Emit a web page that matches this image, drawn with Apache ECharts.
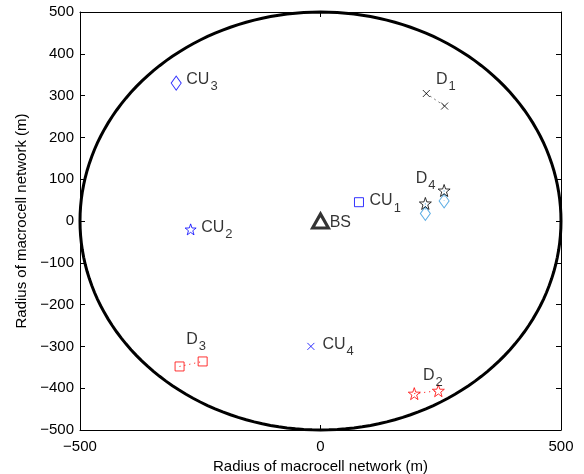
<!DOCTYPE html>
<html>
<head>
<meta charset="utf-8">
<script src="https://cdn.jsdelivr.net/npm/echarts@6/dist/echarts.min.js"></script>
<style>
html,body{margin:0;padding:0;background:#fff;}
#main{width:584px;height:474px;}
</style>
</head>
<body>
<div id="main"></div>
<script>
// cell radius and base station
var cellRadius = 500;
var bsPos = [[0, 0]];

// cellular users
var cu1 = [[80, 45]];
var cu2 = [[-270, -20]];
var cu3 = [[-300, 330]];
var cu4 = [[-20, -300]];

// D2D pairs
var d1Pair = [[220, 305], [258, 275]];
var d2Pair = [[195, -413], [245, -406]];
var d3Pair = [[-293, -348], [-245, -336]];
var d4Tx = [[218, 42], [257, 73]];
var d4Rx = [[218, 18], [257, 48]];

// text notes [x, y, name, subscript]
var notes = [
    [-279, 339, 'CU', '3'],
    [-248, -15, 'CU', '2'],
    [102, 48, 'CU', '1'],
    [4, -295, 'CU', '4'],
    [240, 339, 'D', '1'],
    [198, 102, 'D', '4'],
    [-279, -283, 'D', '3'],
    [213, -370, 'D', '2'],
    [19, -5, 'BS', '']
];

var xTicks = [-500, 0, 500];
var yTicks = [-500, -400, -300, -200, -100, 0, 100, 200, 300, 400, 500];

var starPath = 'path://M0,-10L2.35,-3.24L9.51,-3.09L3.8,1.24L5.88,8.09L0,4L-5.88,8.09L-3.8,1.24L-9.51,-3.09L-2.35,-3.24Z';
var crossPath = 'path://M0,0L10,10M10,0L0,10';
var FONT = '"Liberation Sans", Arial, sans-serif';

function hollow(color, bw){
    return {color: 'rgba(0,0,0,0)', borderColor: color, borderWidth: bw || 1};
}
function minus(v){ return String(v).replace('-', '\u2212'); }

var chart = echarts.init(document.getElementById('main'));

var axisLine = {show: true, onZero: false, lineStyle: {color: '#000', width: 1}};
var tick = {inside: true, length: 5, lineStyle: {color: '#000'}};
var option = {
    animation: false,
    backgroundColor: '#fff',
    grid: {left: 80, right: 23, top: 12, bottom: 44, outerBoundsMode: 'none', containLabel: false},
    xAxis: [{
        type: 'value', min: xTicks[0], max: xTicks[xTicks.length-1], interval: 500,
        axisLine: axisLine, axisTick: tick,
        axisLabel: {color: '#000', fontSize: 15, fontFamily: FONT, margin: 9, formatter: minus},
        splitLine: {show: false},
        name: 'Radius of macrocell network (m)',
        nameLocation: 'middle', nameGap: 27,
        nameTextStyle: {color: '#000', fontSize: 15, fontFamily: FONT}
    }, {
        type: 'value', position: 'top', min: -500, max: 500, interval: 500,
        axisLine: axisLine, axisTick: tick,
        axisLabel: {show: false}, splitLine: {show: false}
    }],
    yAxis: [{
        type: 'value', min: yTicks[0], max: yTicks[yTicks.length-1], interval: 100,
        axisLine: axisLine, axisTick: tick,
        axisLabel: {color: '#000', fontSize: 15, fontFamily: FONT, margin: 6, formatter: minus},
        splitLine: {show: false},
        name: 'Radius of macrocell network (m)',
        nameLocation: 'middle', nameGap: 48,
        nameTextStyle: {color: '#000', fontSize: 15, fontFamily: FONT}
    }, {
        type: 'value', position: 'right', min: -500, max: 500, interval: 100,
        axisLine: axisLine, axisTick: tick,
        axisLabel: {show: false}, splitLine: {show: false}
    }],
    series: [
        {
            // cell boundary
            type: 'custom',
            data: [[0, 0, cellRadius]],
            silent: true,
            renderItem: function(params, api){
                var cx = api.value(0), cy = api.value(1), r = api.value(2);
                var pts = [];
                for (var a = 0; a <= 360; a += 2) {
                    var t = a * Math.PI / 180;
                    pts.push(api.coord([cx + r * Math.cos(t), cy + r * Math.sin(t)]));
                }
                return {type: 'polygon', shape: {points: pts},
                    style: {fill: 'none', stroke: '#000', lineWidth: 3}};
            },
            z: 1
        },
        {type: 'line', data: d1Pair, showSymbol: false, lineStyle: {color: '#000', width: 1, type: [1, 4]}},
        {type: 'line', data: d2Pair, showSymbol: false, lineStyle: {color: '#f00', width: 1, type: [1, 4]}},
        {type: 'line', data: d3Pair, showSymbol: false, lineStyle: {color: '#f00', width: 1, type: [1, 4]}},
        {type: 'line', data: [d4Tx[0], d4Rx[0]], showSymbol: false, lineStyle: {color: '#39d', width: 1, type: [1, 4]}},
        {type: 'line', data: [d4Tx[1], d4Rx[1]], showSymbol: false, lineStyle: {color: '#39d', width: 1, type: [1, 4]}},
        {type: 'scatter', data: bsPos, symbol: 'triangle', symbolSize: [16, 14], itemStyle: hollow('#000', 3)},
        {type: 'scatter', data: cu1, symbol: 'rect', symbolSize: 9, itemStyle: hollow('#00f')},
        {type: 'scatter', data: cu2, symbol: starPath, symbolSize: 11, itemStyle: hollow('#00f')},
        {type: 'scatter', data: cu3, symbol: 'diamond', symbolSize: [10, 14], itemStyle: hollow('#00f')},
        {type: 'scatter', data: cu4, symbol: crossPath, symbolSize: 7, itemStyle: hollow('#00f')},
        {type: 'scatter', data: d1Pair, symbol: crossPath, symbolSize: 7, itemStyle: hollow('#000')},
        {type: 'scatter', data: d2Pair, symbol: starPath, symbolSize: 12, itemStyle: hollow('#f00')},
        {type: 'scatter', data: d3Pair, symbol: 'rect', symbolSize: 9, itemStyle: hollow('#f00')},
        {type: 'scatter', data: d4Rx, symbol: 'diamond', symbolSize: [10, 14], itemStyle: hollow('#39d')},
        {type: 'scatter', data: d4Tx, symbol: starPath, symbolSize: 12, itemStyle: hollow('#000')},
        {
            type: 'scatter', symbolSize: 0, silent: true,
            data: notes.map(function(n){ return {value: [n[0], n[1]], main: n[2], sub: n[3]}; }),
            label: {
                show: true, position: 'right', distance: 0,
                formatter: function(p){
                    return '{a|' + p.data.main + '}' + (p.data.sub ? '{b|' + p.data.sub + '}' : '');
                },
                rich: {
                    a: {fontSize: 16, fontFamily: FONT, color: '#000'},
                    b: {fontSize: 13, fontFamily: FONT, color: '#000', padding: [14, 0, 0, 1]}
                }
            }
        }
    ]
};
chart.setOption(option);
</script>
</body>
</html>
